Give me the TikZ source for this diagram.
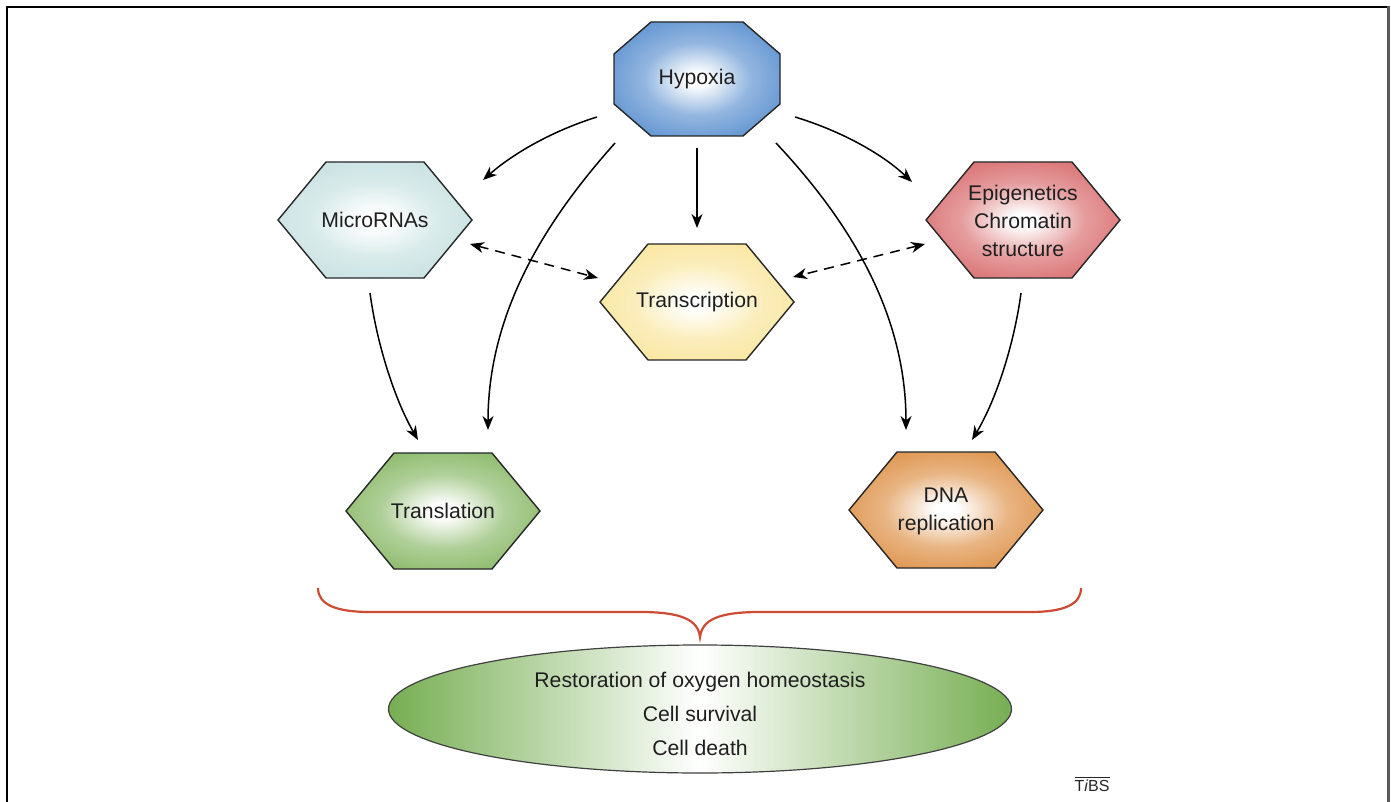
\documentclass[tikz,border=0pt]{standalone}
\usepackage{fontspec}
\setmainfont{Liberation Sans}
\usetikzlibrary{arrows.meta,shapes.geometric}
\definecolor{hypcol}{RGB}{58,122,198}
\definecolor{mircol}{RGB}{186,218,218}
\definecolor{trcol}{RGB}{248,224,135}
\definecolor{epicol}{RGB}{208,76,78}
\definecolor{tlcol}{RGB}{110,168,68}
\definecolor{dnacol}{RGB}{214,120,30}
\definecolor{elcol}{RGB}{118,174,82}
\definecolor{bracecol}{RGB}{205,75,50}
\pgfdeclareradialshading{hypsh}{\pgfpoint{0bp}{0bp}}{color(0bp)=(white); color(3bp)=(white); color(16bp)=(hypcol!55); color(40bp)=(hypcol); color(75bp)=(hypcol)}
\pgfdeclareradialshading{mirsh}{\pgfpoint{0bp}{0bp}}{color(0bp)=(white); color(3bp)=(white); color(16bp)=(mircol!55); color(40bp)=(mircol); color(75bp)=(mircol)}
\pgfdeclareradialshading{trsh}{\pgfpoint{0bp}{0bp}}{color(0bp)=(white); color(3bp)=(white); color(16bp)=(trcol!55); color(40bp)=(trcol); color(75bp)=(trcol)}
\pgfdeclareradialshading{epish}{\pgfpoint{0bp}{0bp}}{color(0bp)=(white); color(3bp)=(white); color(16bp)=(epicol!55); color(40bp)=(epicol); color(75bp)=(epicol)}
\pgfdeclareradialshading{tlsh}{\pgfpoint{0bp}{0bp}}{color(0bp)=(white); color(3bp)=(white); color(16bp)=(tlcol!55); color(40bp)=(tlcol); color(75bp)=(tlcol)}
\pgfdeclareradialshading{dnash}{\pgfpoint{0bp}{0bp}}{color(0bp)=(white); color(3bp)=(white); color(16bp)=(dnacol!55); color(40bp)=(dnacol); color(75bp)=(dnacol)}
\tikzset{
  pics/hexa/.style={code={\path[pic actions] (-97,0) -- (-49,-58) -- (49,-58) -- (97,0) -- (49,58) -- (-49,58) -- cycle;}},
  pics/octa/.style={code={\path[pic actions] (-46,-57) -- (46,-57) -- (83,-25) -- (83,25) -- (46,57) -- (-46,57) -- (-83,25) -- (-83,-25) -- cycle;}},
}
\begin{document}
\begin{tikzpicture}[x=0.5pt,y=-0.5pt,
  lbl/.style={font=\fontsize{10.6}{14}\selectfont, text=black!88, align=center, inner sep=0pt},
  shp/.style={draw=black!85, line width=0.7pt, shade},
  arr/.style={line width=0.75pt, -{Stealth[length=7pt,width=5.5pt,inset=2.2pt]}},
  darr/.style={line width=0.75pt, dash pattern=on 5pt off 3.5pt, {Stealth[length=7pt,width=5.5pt,inset=2.2pt]}-{Stealth[length=7pt,width=5.5pt,inset=2.2pt]}},
]
\useasboundingbox (0,0) rectangle (1391,802);
% frame
\draw[line width=1pt] (7,802) -- (7,7) -- (1388,7);
\draw[line width=1.5pt, black!65] (1388,6) -- (1388,802);

% shapes
\pic[shp, shading=hypsh] at (697,79) {octa};
\pic[shp, shading=mirsh] at (375,220) {hexa};
\pic[shp, shading=trsh] at (697,302) {hexa};
\pic[shp, shading=epish] at (1023,220) {hexa};
\pic[shp, shading=tlsh] at (443,511) {hexa};
\pic[shp, shading=dnash] at (946,510) {hexa};

% labels
\node[lbl] (hyp) at (697,79) {Hypoxia};
\node[lbl] (mir) at (375,220) {MicroRNAs};
\node[lbl] (tsc) at (697,302) {Transcription};
\node[lbl] (epi) at (1023,221) {Epigenetics\\Chromatin\\structure};
\node[lbl] (tln) at (443,511) {Translation};
\node[lbl] (dna) at (946,511) {DNA\\replication};

% arrows
\draw[arr] ([shift={(-100,38)}]hyp.center) .. controls (555,130) and (515,152) .. ([shift={(108,-40)}]mir.center);
\draw[arr] ([shift={(-82,64)}]hyp.center) .. controls (560,205) and (488,300) .. ([shift={(45,-81)}]tln.center);
\draw[arr] ([shift={(0,69)}]hyp.center) -- ([shift={(0,-74)}]tsc.center);
\draw[arr] ([shift={(79,64)}]hyp.center) .. controls (834,205) and (906,300) .. ([shift={(-40,-81)}]dna.center);
\draw[arr] ([shift={(98,38)}]hyp.center) .. controls (838,130) and (880,152) .. ([shift={(-111,-39)}]epi.center);
\draw[arr] ([shift={(-5,73)}]mir.center) .. controls (377,345) and (395,400) .. ([shift={(-25,-71)}]tln.center);
\draw[arr] ([shift={(-2,72)}]epi.center) .. controls (1014,345) and (996,400) .. ([shift={(26,-71)}]dna.center);
\draw[darr] ([shift={(95,24)}]mir.center) -- ([shift={(-99,-24)}]tsc.center);
\draw[darr] ([shift={(-98,23)}]epi.center) -- ([shift={(96,-25)}]tsc.center);

% brace
\draw[bracecol, line width=1.1pt] (318,588) .. controls (318,604) and (335,612) .. (370,612) -- (640,612) .. controls (682,612) and (698,620) .. (700,637) .. controls (702,620) and (718,612) .. (760,612) -- (1030,612) .. controls (1065,612) and (1081,604) .. (1081,588);

% outcome ellipse
\node[ellipse, draw=black!75, line width=0.6pt, minimum width=311.5pt, minimum height=64pt, inner sep=0pt,
  left color=elcol, right color=elcol, middle color=white] (res) at (700,709) {};
\node[font=\fontsize{10.6}{17}\selectfont, text=black!88, align=center, inner sep=0pt] (resl) at (700,714)
  {Restoration of oxygen homeostasis\\Cell survival\\Cell death};

% logo
\node[font=\fontsize{8}{9}\selectfont, inner sep=0pt, text=black!85] (logo) at (1092,784) {$\overline{\hbox{T\textit{i}BS}}$};
\end{tikzpicture}
\end{document}
